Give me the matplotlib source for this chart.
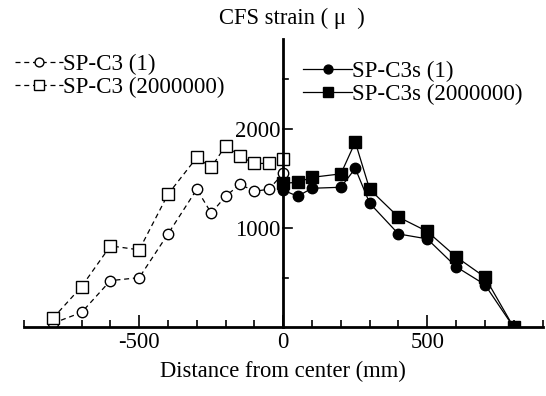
import matplotlib
matplotlib.use('Agg')
import matplotlib.pyplot as plt

plt.rcParams['font.family'] = ['Liberation Serif', 'DejaVu Serif']

# distance from center (mm)
x_left = [-800, -700, -600, -500, -400, -300, -250, -200, -150, -100, -50, 0]
x_right = [0, 50, 100, 200, 250, 300, 400, 500, 600, 700, 800]

# CFS strain values
c3_1 = [40, 150, 470, 500, 940, 1390, 1150, 1320, 1440, 1370, 1390, 1550]
c3_2m = [90, 410, 820, 780, 1340, 1710, 1610, 1830, 1720, 1650, 1650, 1690]
c3s_1 = [1380, 1320, 1400, 1410, 1600, 1250, 940, 890, 610, 430, 0]
c3s_2m = [1450, 1460, 1510, 1545, 1865, 1390, 1110, 965, 710, 505, 0]

fig = plt.figure(figsize=(5.46, 3.96), dpi=100)
ax = fig.add_axes([24 / 546, 68.7 / 396, 518.5 / 546, 288 / 396])

# open markers, dashed lines
l1, = ax.plot(x_left, c3_1, 'k--', lw=0.9, marker='o', ms=7.5, mfc='white', mec='black', mew=1.0,
              label='SP-C3 (1)', dashes=(4, 3))
l2, = ax.plot(x_left, c3_2m, 'k--', lw=0.9, marker='s', ms=8, mfc='white', mec='black', mew=1.0,
              label='SP-C3 (2000000)', dashes=(4, 3))
# filled markers, solid lines
l3, = ax.plot(x_right, c3s_1, 'k-', lw=0.9, marker='o', ms=7.5, mfc='black', mec='black',
              label='SP-C3s (1)')
l4, = ax.plot(x_right, c3s_2m, 'k-', lw=0.9, marker='s', ms=8, mfc='black', mec='black',
              label='SP-C3s (2000000)')

ax.set_xlim(-900, 900)
ax.set_ylim(0, 2900)

# spines through the origin
ax.spines['left'].set_position(('data', 0))
ax.spines['right'].set_visible(False)
ax.spines['top'].set_visible(False)
ax.spines['left'].set_linewidth(2)
ax.spines['bottom'].set_linewidth(2)

ax.set_xticks([-500, 0, 500])
ax.set_xticks(range(-900, 901, 100), minor=True)
ax.set_yticks([1000, 2000])
ax.set_yticklabels(['1000', '2000'])
ax.set_yticks([500, 1500, 2500], minor=True)
ax.tick_params(axis='x', which='major', direction='in', length=9, width=1.2, labelsize=16.3, pad=3.5)
ax.tick_params(axis='x', which='minor', direction='in', length=5, width=1.2)
ax.tick_params(axis='y', which='major', direction='out', length=0, labelsize=16.3, pad=2)
ax.tick_params(axis='y', which='minor', length=0)
# y ticks drawn on the right side of the centre spine
for yv, ln in [(500, 5), (1000, 9), (1500, 5), (2000, 9), (2500, 5)]:
    ax.plot([0, ln / 0.288], [yv, yv], color='black', lw=1.2, clip_on=False, zorder=1)
ax.set_xticklabels(['-500', '0', '500'])

fig.text(283 / 546, 1 - 371 / 396, 'Distance from center (mm)', ha='center', va='center', fontsize=16.3)
fig.text(219 / 546, 1 - 18 / 396, 'CFS strain ( μ  )', ha='left', va='center', fontsize=16.3)

leg_kw = dict(frameon=False, fontsize=16.6, handlelength=2.1, handletextpad=0.0,
              labelspacing=0.06, markerscale=0.85, borderaxespad=0, loc='upper left')
leg1 = ax.legend(handles=[l1, l2], bbox_to_anchor=(-0.035, 0.98), **leg_kw)
ax.add_artist(leg1)
ax.legend(handles=[l3, l4], bbox_to_anchor=(0.521, 0.957), **leg_kw)

fig.savefig('out.png', dpi=100)
